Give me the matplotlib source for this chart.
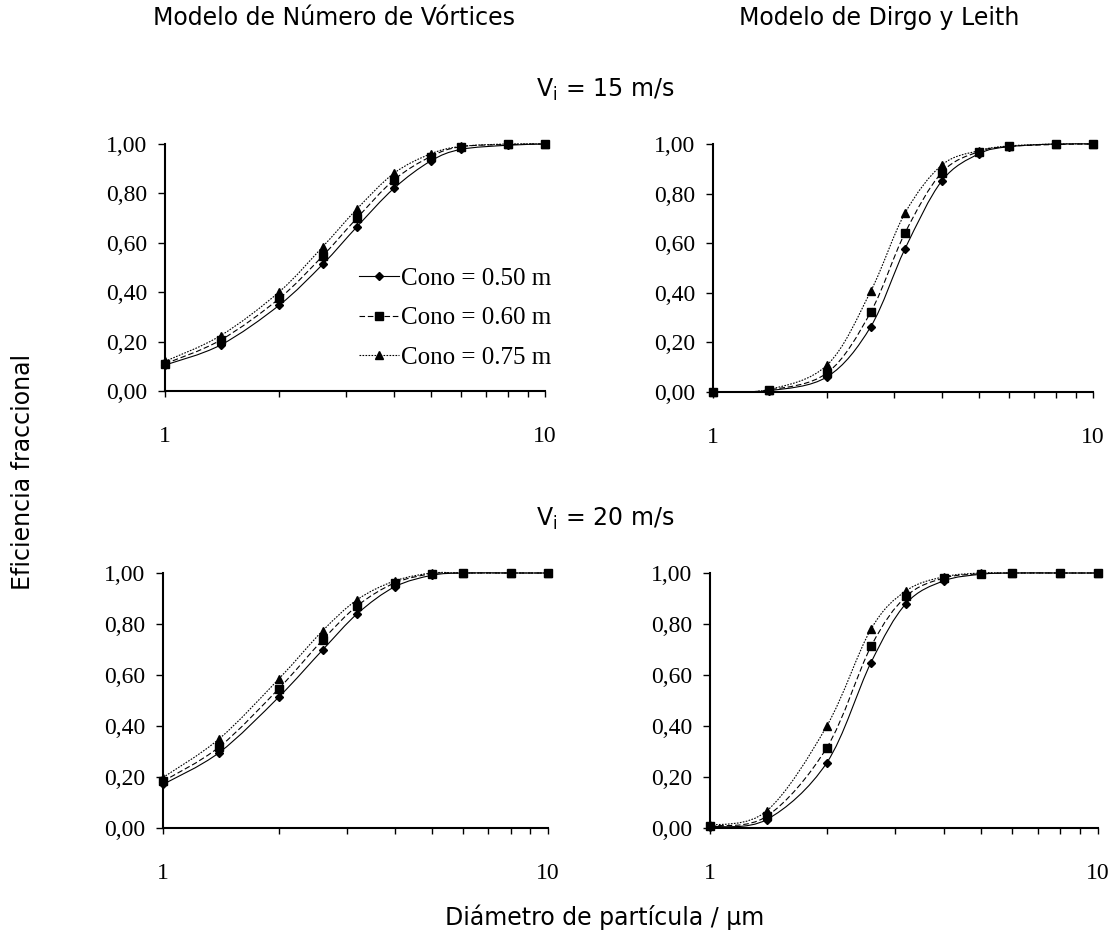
import numpy as np
import matplotlib
matplotlib.use('Agg')
import matplotlib.pyplot as plt
from matplotlib.path import Path
from matplotlib.patches import PathPatch
from matplotlib.lines import Line2D
from matplotlib.ticker import FixedLocator, FixedFormatter, NullFormatter

# particle diameter (um)
x_um = [1, 1.4, 2, 2.6, 3.2, 4, 5, 6, 8, 10]

# Modelo de Numero de Vortices, Vi = 15 m/s
nv15_050 = [0.105, 0.186, 0.348, 0.513, 0.665, 0.820, 0.931, 0.978, 0.995, 1.0]
nv15_060 = [0.110, 0.206, 0.375, 0.547, 0.700, 0.854, 0.949, 0.989, 0.998, 1.0]
nv15_075 = [0.120, 0.224, 0.402, 0.584, 0.737, 0.881, 0.960, 0.990, 1.0, 1.0]

# Modelo de Dirgo y Leith, Vi = 15 m/s
dl15_050 = [0.0, 0.005, 0.062, 0.263, 0.577, 0.851, 0.960, 0.989, 1.0, 1.0]
dl15_060 = [0.0, 0.008, 0.078, 0.322, 0.641, 0.885, 0.969, 0.990, 0.998, 1.0]
dl15_075 = [0.0, 0.010, 0.110, 0.406, 0.721, 0.915, 0.973, 0.992, 1.0, 1.0]

# Modelo de Numero de Vortices, Vi = 20 m/s
nv20_050 = [0.171, 0.296, 0.514, 0.699, 0.841, 0.946, 0.991, 1.0, 1.0, 1.0]
nv20_060 = [0.183, 0.318, 0.547, 0.738, 0.872, 0.961, 0.997, 1.0, 1.0, 1.0]
nv20_075 = [0.198, 0.350, 0.585, 0.774, 0.896, 0.969, 1.0, 1.0, 1.0, 1.0]

# Modelo de Dirgo y Leith, Vi = 20 m/s
dl20_050 = [0.005, 0.033, 0.256, 0.649, 0.880, 0.969, 0.995, 1.0, 1.0, 1.0]
dl20_060 = [0.008, 0.046, 0.315, 0.712, 0.908, 0.980, 0.997, 1.0, 1.0, 1.0]
dl20_075 = [0.010, 0.067, 0.400, 0.780, 0.930, 0.985, 1.0, 1.0, 1.0, 1.0]

series_labels = ['Cono = 0.50 m', 'Cono = 0.60 m', 'Cono = 0.75 m']
y_ticks = [0.0, 0.2, 0.4, 0.6, 0.8, 1.0]
y_ticklabels = ['0,00', '0,20', '0,40', '0,60', '0,80', '1,00']
x_ticks = [1, 10]
x_ticklabels = ['1', '10']

markers = ['D', 's', '^']
msizes = [4.5, 5.5, 6]
lstyles = ['-', (0, (5, 2.5)), (0, (1.5, 1.2))]

serif = 'Liberation Serif'
sans = 'DejaVu Sans'


def smooth_path(x, y):
    # excel-like smoothed line: bezier through the points in log-x space
    pts = np.column_stack([np.log10(x), np.asarray(y, float)])
    n = len(pts)
    verts = [pts[0]]
    codes = [Path.MOVETO]
    for i in range(n - 1):
        p0 = pts[max(i - 1, 0)]
        p1 = pts[i]
        p2 = pts[i + 1]
        p3 = pts[min(i + 2, n - 1)]
        verts += [p1 + (p2 - p0) / 6, p2 - (p3 - p1) / 6, p2]
        codes += [Path.CURVE4] * 3
    verts = np.array(verts)
    verts[:, 0] = 10 ** verts[:, 0]
    return Path(verts, codes)


def panel(ax, curves):
    for k, yv in enumerate(curves):
        patch = PathPatch(smooth_path(x_um, yv), fill=False, ec='black',
                          lw=0.8, ls=lstyles[k], transform=ax.transData,
                          clip_on=False)
        ax.add_patch(patch)
        ax.plot(x_um, yv, ls='none', marker=markers[k], ms=msizes[k],
                color='black', clip_on=False, zorder=3)
    ax.set_xscale('log')
    ax.set_xlim(1, 10)
    ax.set_ylim(0, 1)
    ax.spines['top'].set_visible(False)
    ax.spines['right'].set_visible(False)
    ax.spines['left'].set_linewidth(1.5)
    ax.spines['bottom'].set_linewidth(1.5)
    ax.xaxis.set_major_locator(FixedLocator(x_ticks))
    ax.xaxis.set_major_formatter(FixedFormatter(x_ticklabels))
    ax.xaxis.set_minor_locator(FixedLocator([2, 3, 4, 5, 6, 7, 8, 9]))
    ax.xaxis.set_minor_formatter(NullFormatter())
    ax.set_yticks(y_ticks)
    ax.set_yticklabels(y_ticklabels)
    ax.tick_params(axis='x', which='both', direction='out', length=4, width=1,
                   pad=21)
    ax.tick_params(axis='y', direction='out', length=5, width=1, pad=8)
    for lab in ax.get_xticklabels() + ax.get_yticklabels():
        lab.set_fontfamily(serif)
        lab.set_fontsize(17)


fig = plt.figure(figsize=(11.17, 9.41), dpi=100)

ax1 = fig.add_axes([165 / 1117, 1 - 391 / 941, 380 / 1117, 247 / 941])
ax2 = fig.add_axes([713 / 1117, 1 - 392 / 941, 380 / 1117, 248 / 941])
ax3 = fig.add_axes([163 / 1117, 1 - 828 / 941, 385 / 1117, 255 / 941])
ax4 = fig.add_axes([710 / 1117, 1 - 828 / 941, 388 / 1117, 255 / 941])

panel(ax1, [nv15_050, nv15_060, nv15_075])
panel(ax2, [dl15_050, dl15_060, dl15_075])
panel(ax3, [nv20_050, nv20_060, nv20_075])
panel(ax4, [dl20_050, dl20_060, dl20_075])

handles = [Line2D([], [], color='black', lw=0.8, ls=lstyles[k],
                  marker=markers[k], ms=msizes[k]) for k in range(3)]
fig.legend(handles, series_labels, loc='center',
           bbox_to_anchor=(455 / 1117, 1 - 318 / 941), frameon=False,
           prop={'family': serif, 'size': 18}, handlelength=1.6,
           handletextpad=0.1, labelspacing=0.68, borderpad=0)

fs = 17
fig.text(334 / 1117, 1 - 18 / 941, 'Modelo de Número de Vórtices',
         ha='center', va='center', family=sans, fontsize=fs)
fig.text(879 / 1117, 1 - 18 / 941, 'Modelo de Dirgo y Leith',
         ha='center', va='center', family=sans, fontsize=fs)
fig.text(605 / 1117, 1 - 90 / 941, r'V$_\mathregular{i}$ = 15 m/s',
         ha='center', va='center', family=sans, fontsize=fs)
fig.text(605 / 1117, 1 - 519 / 941, r'V$_\mathregular{i}$ = 20 m/s',
         ha='center', va='center', family=sans, fontsize=fs)
fig.text(23 / 1117, 1 - 472 / 941, 'Eficiencia fraccional', rotation=90,
         ha='center', va='center', family=sans, fontsize=fs)
fig.text(605 / 1117, 1 - 917 / 941, 'Diámetro de partícula / µm',
         ha='center', va='center', family=sans, fontsize=fs)

fig.savefig('out.png', dpi=100)
